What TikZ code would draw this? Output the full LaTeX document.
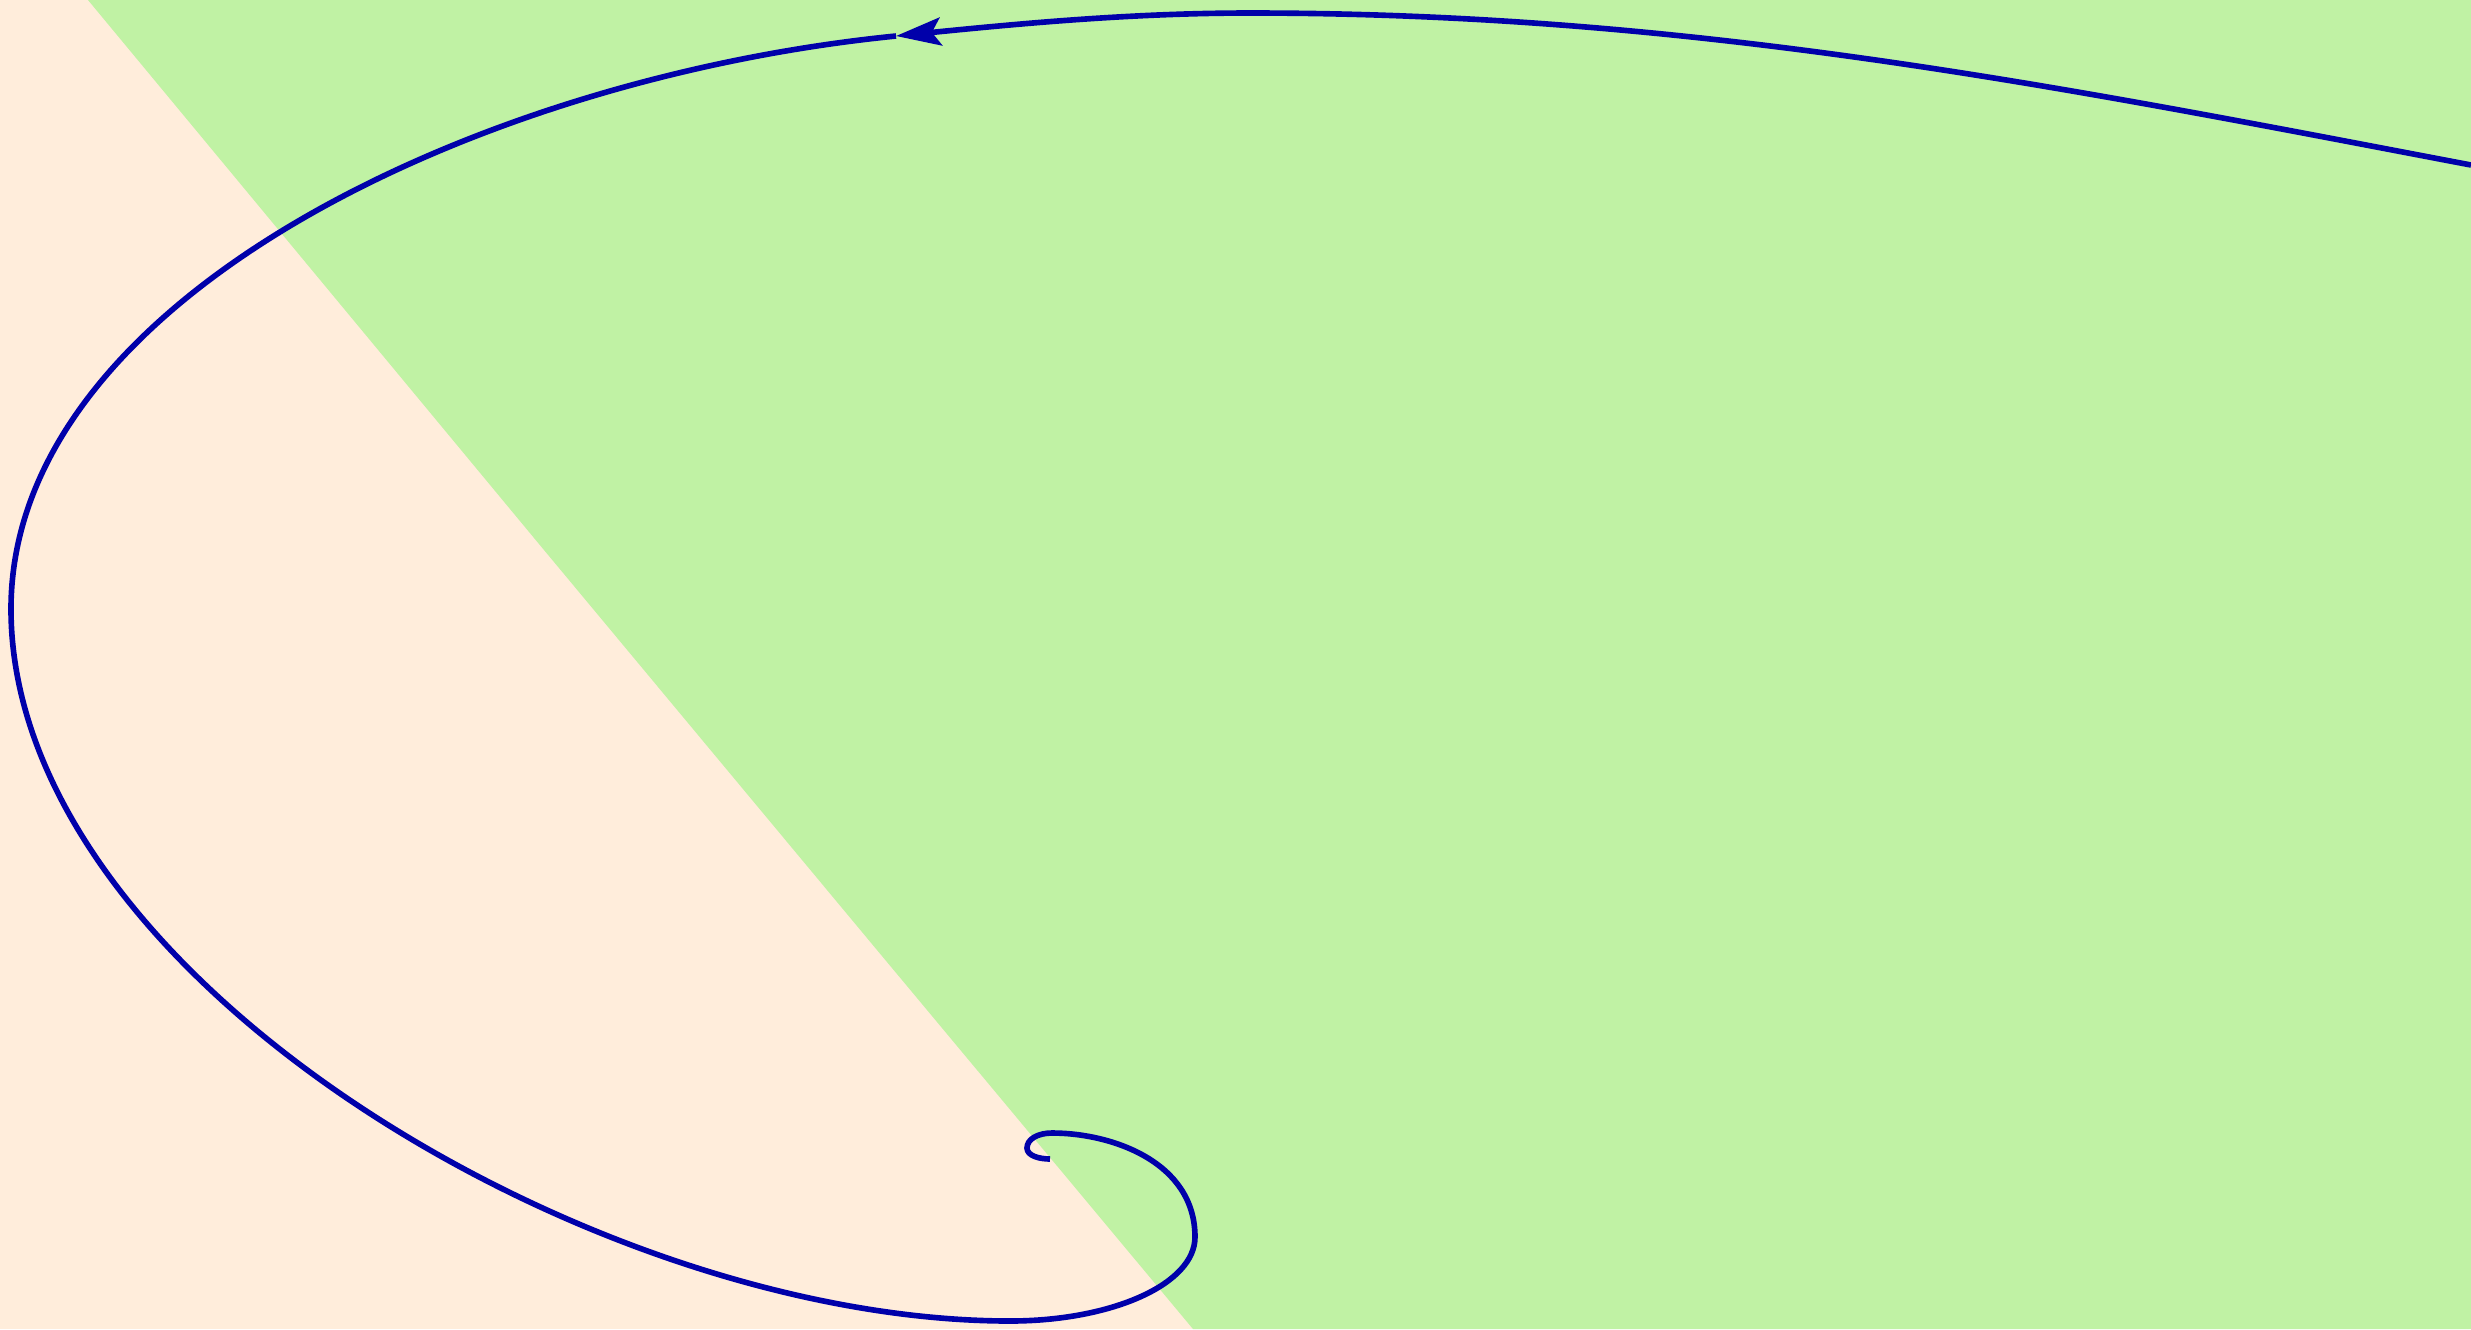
\documentclass[tikz,border=0pt]{standalone}
\usetikzlibrary{arrows.meta}
\definecolor{slowregion}{RGB}{255,237,219}
\definecolor{fastregion}{RGB}{192,242,164}
\definecolor{orbitblue}{RGB}{0,0,170}
\begin{document}
\begin{tikzpicture}[x=0.01cm,y=-0.01cm,
  orbit/.style={orbitblue,line width=1.6pt,line join=round}]
\useasboundingbox (0,0) rectangle (2471,1329);
\clip (0,0) rectangle (2471,1329);

% Background regions
\fill[slowregion] (0,0) rectangle (2471,1329);
\fill[fastregion] (88,0) -- (544,550) -- (877,950) -- (1193,1329)
  -- (2471,1329) -- (2471,0) -- cycle;

% Trajectory, incoming part with direction arrow
\draw[orbit,-{Stealth[length=4.5mm,width=2.8mm,inset=0.9mm]}]
  (2471,165) .. controls (2071,89) and (1700,13) .. (1250,13)
  .. controls (1130,13) and (1016,24) .. (896,36);

% Trajectory, spiralling into the fixed point
\draw[orbit] (896,36) .. controls (476,78) and (11,300) .. (11,609)
  .. controls (11,975) and (590,1321) .. (1010,1321)
  .. controls (1112,1321) and (1195,1284) .. (1195,1237)
  .. controls (1195,1162) and (1112,1133) .. (1052,1133)
  .. controls (1038,1133) and (1027,1139) .. (1027,1148)
  .. controls (1027,1156) and (1040,1159) .. (1050,1159);
\end{tikzpicture}
\end{document}
